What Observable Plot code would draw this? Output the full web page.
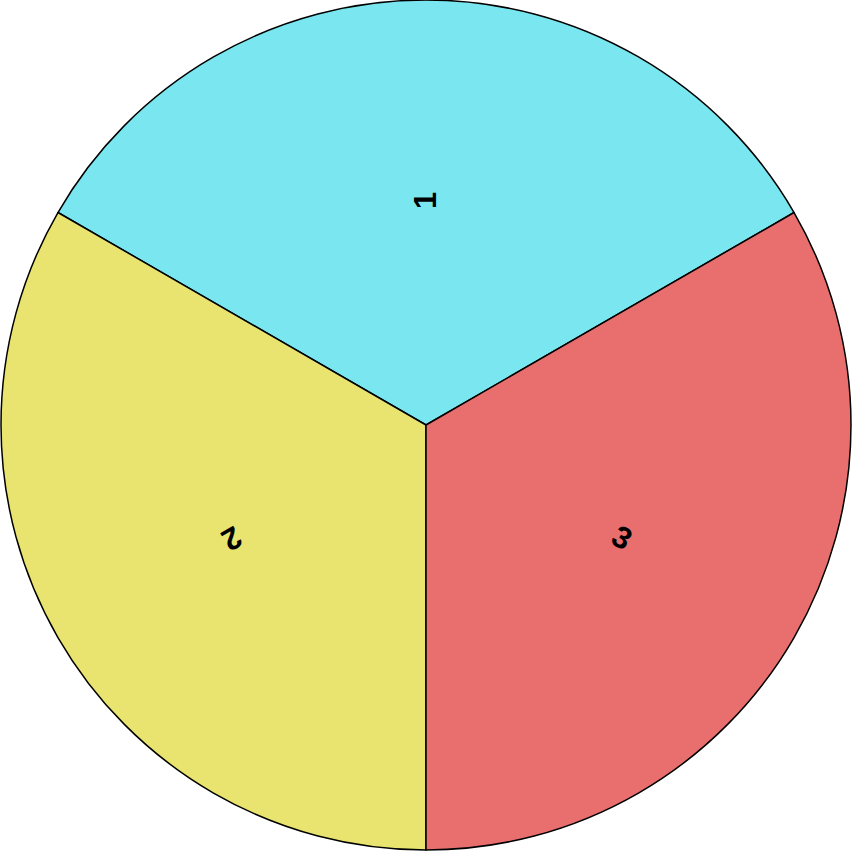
<!DOCTYPE html>
<html>
<head>
<meta charset="utf-8">
<script src="https://cdn.jsdelivr.net/npm/d3@7"></script>
<script src="https://cdn.jsdelivr.net/npm/@observablehq/plot@0.6"></script>
<style>
  html, body { margin: 0; padding: 0; background: #ffffff; }
  #chart { width: 852px; height: 852px; }
</style>
</head>
<body>
<div id="chart"></div>
<script>
const categories = ["1", "2", "3"];
const values = [1, 1, 1];
const colors = ["#7ae7f0", "#e8e46f", "#e86f6e"];

const pie = d3.pie().sort(null).value(d => d.value)
  .startAngle(Math.PI / 3).endAngle(Math.PI / 3 - 2 * Math.PI);
const slices = pie(categories.map((c, i) => ({category: c, value: values[i], color: colors[i]})));

const labelR = 0.53;
const labels = slices.map(s => {
  const a = (s.startAngle + s.endAngle) / 2;
  return {
    category: s.data.category,
    x: labelR * Math.sin(a),
    y: labelR * Math.cos(a),
    rotate: a * 180 / Math.PI - 90
  };
});

const pieMark = (index, scales) => {
  const cx = scales.x(0), cy = scales.y(0);
  const r = scales.x(1) - scales.x(0);
  const arc = d3.arc().innerRadius(0).outerRadius(r);
  const g = d3.create("svg:g").attr("transform", `translate(${cx},${cy})`);
  g.selectAll("path").data(slices).join("path")
    .attr("d", arc)
    .attr("fill", d => d.data.color)
    .attr("stroke", "#000")
    .attr("stroke-width", 1.5)
    .attr("stroke-linejoin", "round");
  return g.node();
};

const chart = Plot.plot({
  width: 852,
  height: 852,
  margin: 0,
  x: {domain: [-426 / 425, 426 / 425], axis: null},
  y: {domain: [-427 / 425, 425 / 425], axis: null},
  style: {background: "#ffffff"},
  marks: [
    pieMark,
    Plot.text(labels, {
      x: "x", y: "y", text: "category", rotate: "rotate",
      fontSize: 31, fontWeight: "bold", fill: "#000",
      fontFamily: "Liberation Sans, Arial, sans-serif",
      textAnchor: "middle", lineAnchor: "middle"
    })
  ]
});
document.getElementById("chart").appendChild(chart);
</script>
</body>
</html>
